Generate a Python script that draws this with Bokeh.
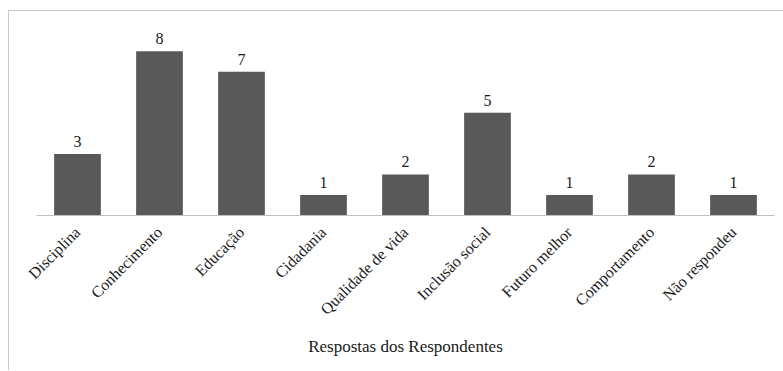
import math
from bokeh.plotting import figure
from bokeh.models import ColumnDataSource, LabelSet, Range1d
from bokeh.embed import file_html
from bokeh.resources import INLINE

categories = ["Disciplina", "Conhecimento", "Educação", "Cidadania", "Qualidade de vida",
              "Inclusão social", "Futuro melhor", "Comportamento", "Não respondeu"]
values = [3, 8, 7, 1, 2, 5, 1, 2, 1]
x_title = "Respostas dos Respondentes"

FONT = "'Liberation Serif', 'DejaVu Serif', serif"

src = ColumnDataSource(dict(cat=categories, val=values, lab=[str(v) for v in values]))

p = figure(x_range=categories, y_range=Range1d(0, 9.5), width=775, height=360,
           output_backend="svg", toolbar_location=None, y_axis_location=None,
           min_border_left=27, min_border_right=10, min_border_top=9, min_border_bottom=156)
p.styles = {"border-top": "1px solid #c8c8c8", "border-left": "1px solid #c8c8c8",
            "margin-left": "8px", "margin-top": "10px"}

p.vbar(x="cat", top="val", width=0.57, source=src, fill_color="#595959", line_color=None)

labels = LabelSet(x="cat", y="val", text="lab", source=src, text_align="center",
                  text_baseline="bottom", y_offset=7, text_font=FONT,
                  text_font_size="16px", text_color="#1a1a1a")
p.add_layout(labels)

p.xgrid.visible = False
p.ygrid.visible = False
p.outline_line_color = None
p.background_fill_color = "white"
p.border_fill_color = "white"

ax = p.xaxis[0]
ax.axis_line_color = "#bfbfbf"
ax.major_tick_line_color = None
ax.minor_tick_line_color = None
ax.major_label_orientation = math.pi / 4
ax.major_label_text_font = FONT
ax.major_label_text_font_size = "16px"
ax.major_label_text_color = "#1a1a1a"
ax.major_label_standoff = 8
ax.axis_label = x_title
ax.axis_label_text_font = FONT
ax.axis_label_text_font_style = "normal"
ax.axis_label_text_font_size = "17px"
ax.axis_label_text_color = "#1a1a1a"
ax.axis_label_standoff = 10

open("out.html", "w").write(file_html(p, INLINE))
